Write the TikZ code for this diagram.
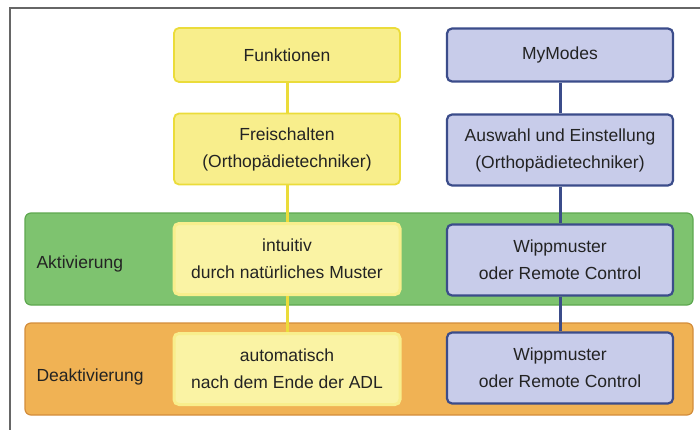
\documentclass[tikz,border=0pt]{standalone}
\usepackage{fontspec}
\setmainfont{Liberation Sans}
\usetikzlibrary{positioning,backgrounds}
\definecolor{ink}{HTML}{232323}
\definecolor{gelb}{HTML}{F8EE8C}
\definecolor{gelbhell}{HTML}{FAF3A4}
\definecolor{gelbrand}{HTML}{EBDC3A}
\definecolor{blau}{HTML}{C8CCEA}
\definecolor{blaurand}{HTML}{3B4C8A}
\definecolor{gruen}{HTML}{7EC36F}
\definecolor{gruenrand}{HTML}{5EA84F}
\definecolor{orng}{HTML}{F0B254}
\definecolor{orngrand}{HTML}{D38D3B}

\begin{document}
\begin{tikzpicture}[x=1pt,y=-1pt,font=\fontsize{17.5}{27}\selectfont,text=ink,
  box/.style={rounded corners=5pt,line width=1.8pt,align=center,minimum width=226pt,minimum height=71pt,inner sep=0pt},
  fkt/.style={box,draw=gelbrand,fill=gelb},
  fkthell/.style={box,draw=gelb,fill=gelbhell,line width=3pt},
  mym/.style={box,draw=blaurand,fill=blau,line width=2.2pt},
  band/.style={rounded corners=6pt,line width=1.2pt,minimum width=668pt,minimum height=92pt,inner sep=0pt},
  lnk/.style={line width=3pt}]
\useasboundingbox (0,0) rectangle (700,430);
\draw[gray!80!black,line width=1.5pt] (10,430) -- (10,8) -- (700,8);
% linke Spalte
\node[fkt,minimum height=54pt] (funk) at (287,55) {Funktionen};
\node[fkt] (frei) at (287,149) {Freischalten\\(Orthopädietechniker)};
\node[fkthell] (intu) at (287,259) {intuitiv\\durch natürliches Muster};
\node[fkthell] (auto) at (287,369) {automatisch\\nach dem Ende der ADL};
% rechte Spalte
\node[mym,minimum height=53pt] (mymo) at (560,55) {MyModes};
\node[mym] (ausw) at (560,150) {Auswahl und Einstellung\\(Orthopädietechniker)};
\node[mym] (wipa) at (560,260) {Wippmuster\\oder Remote Control};
\node[mym] (wipd) at (560,368) {Wippmuster\\oder Remote Control};
\begin{scope}[on background layer]
\node[band,draw=gruenrand,fill=gruen] (aktb) at (359,259) {};
\node[band,draw=orngrand,fill=orng] (deab) at (359,369) {};
\end{scope}
\node[anchor=west] (aktl) at (33,264) {Aktivierung};
\node[anchor=west] (deal) at (33,377) {Deaktivierung};
\draw[gelbrand,lnk] (funk) -- (frei); \draw[gelbrand,lnk] (frei) -- (intu);
\draw[gelbrand,lnk] (intu) -- (auto);
\draw[blaurand,lnk] (mymo) -- (ausw); \draw[blaurand,lnk] (ausw) -- (wipa);
\draw[blaurand,lnk] (wipa) -- (wipd);
\end{tikzpicture}
\end{document}
